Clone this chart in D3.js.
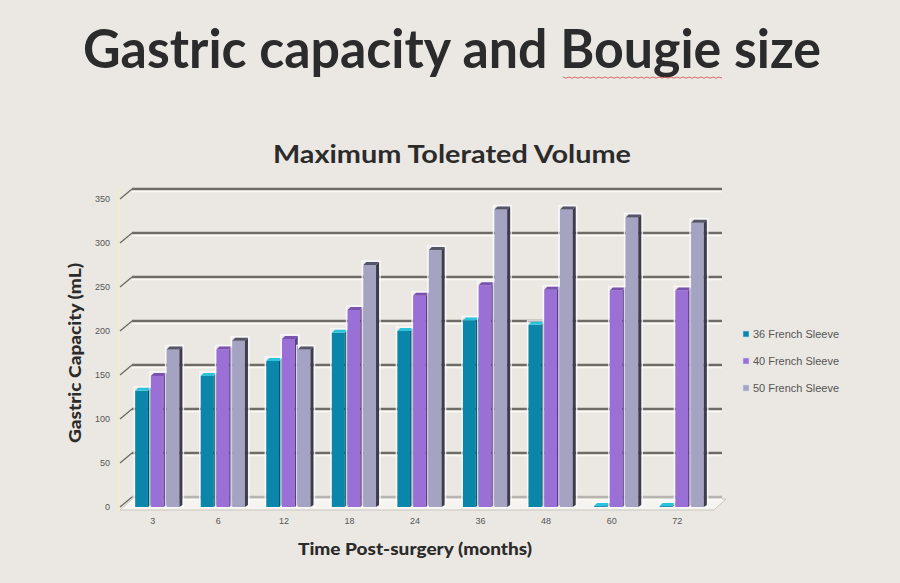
<!DOCTYPE html>
<html>
<head>
<meta charset="utf-8">
<script src="https://cdn.jsdelivr.net/npm/d3@7"></script>
<style>
  html, body { margin: 0; padding: 0; background: #ebe8e3; }
  svg { display: block; }
</style>
</head>
<body>
<svg id="chart" width="900" height="583"></svg>
<script>
// data
const months = ["3", "6", "12", "18", "24", "36", "48", "60", "72"];
const seriesNames = ["36 French Sleeve", "40 French Sleeve", "50 French Sleeve"];
const s36 = [132, 149, 166, 198, 200, 212, 207, 1, 1];
const s40 = [149, 179, 191, 224, 240, 252, 247, 246, 246];
const s50 = [179, 189, 179, 275, 292, 338, 338, 329, 323];
const yTicks = [0, 50, 100, 150, 200, 250, 300, 350];

const colors = ["#0a86ab", "#9a6fd6", "#a4a4c2"];
const sideColors = ["#05536b", "#5a3f86", "#3c3c4a"];
const topColors = ["#2bc2dc", "#7a52b0", "#55556a"];

const svg = d3.select("#chart");
const plotLeft = 120, plotRight = 710, plotBottom = 507, plotTop = 199;
const depthX = 12, depthY = -10;   // 3D offset of the back wall
const titleFont = "Lato, 'Open Sans', 'DejaVu Sans', sans-serif";

const x = d3.scaleBand().domain(months).range([plotLeft, plotRight])
    .paddingInner(0.28).paddingOuter(0.14);
const y = d3.scaleLinear().domain([0, 350]).range([plotBottom, plotTop]);
const xs = d3.scaleBand().domain(d3.range(3)).range([0, x.bandwidth()]);

// titles
svg.append("text")
    .attr("x", 452).attr("y", 68)
    .attr("text-anchor", "middle")
    .attr("textLength", 738).attr("lengthAdjust", "spacingAndGlyphs")
    .style("font-family", titleFont)
    .style("font-weight", "bold").style("font-size", "54px")
    .style("fill", "#2b2b2b")
    .text("Gastric capacity and Bougie size");

// wavy spell-check underline under "Bougie"
svg.append("path")
    .attr("d", d3.range(0, 160, 3).map((d, i) => (i ? "L" : "M") + (563 + d) + "," + (77 + (i % 2 ? 1.2 : 0))).join(""))
    .attr("fill", "none").attr("stroke", "#d04a4a").attr("stroke-width", 0.8);

svg.append("text")
    .attr("x", 452).attr("y", 163)
    .attr("text-anchor", "middle")
    .attr("textLength", 358).attr("lengthAdjust", "spacingAndGlyphs")
    .style("font-family", titleFont)
    .style("font-weight", "bold").style("font-size", "24px")
    .style("fill", "#2b2b2b")
    .text("Maximum Tolerated Volume");

// left wall edge
svg.append("line")
    .attr("x1", plotLeft - 1).attr("x2", plotLeft - 1)
    .attr("y1", y(350) - 12).attr("y2", plotBottom + 4)
    .attr("stroke", "#f2eec2").attr("stroke-width", 1.5);

// floor
svg.append("polygon")
    .attr("points", [[plotLeft, plotBottom + 3], [plotRight + 4, plotBottom + 3], [plotRight + 4 + depthX, plotBottom + depthY + 2], [plotLeft + depthX, plotBottom + depthY + 2]].join(" "))
    .attr("fill", "#f6f4f0").attr("stroke", "#c9c6c0").attr("stroke-width", 1);

// gridlines on the back wall with slanted ticks
const grid = svg.append("g");
yTicks.forEach(v => {
    const yy = y(v);
    grid.append("line")
        .attr("x1", plotLeft + depthX).attr("x2", 722)
        .attr("y1", yy + depthY).attr("y2", yy + depthY)
        .attr("stroke", v === 0 ? "#b8b5b0" : "#6f6b66").attr("stroke-width", 2.5);
    grid.append("line")
        .attr("x1", plotLeft + depthX).attr("x2", 722)
        .attr("y1", yy + depthY + 2.5).attr("y2", yy + depthY + 2.5)
        .attr("stroke", "#fbfaf7").attr("stroke-width", 1.5);
    grid.append("line")
        .attr("x1", plotLeft).attr("x2", plotLeft + depthX)
        .attr("y1", yy).attr("y2", yy + depthY)
        .attr("stroke", "#6a6661").attr("stroke-width", 1.2);
    grid.append("text")
        .attr("x", 110).attr("y", yy + 3)
        .attr("text-anchor", "end")
        .style("font-family", "'Liberation Sans', Arial, sans-serif")
        .style("font-size", "9px").style("fill", "#555")
        .text(v);
});

// bars
const series = [s36, s40, s50];
const bars = svg.append("g");
months.forEach((m, i) => {
    series.forEach((s, k) => {
        const bx = x(m) + 6 + xs(k);
        const bw = xs.bandwidth() - 3;
        const yt = y(s[i]);
        const g = bars.append("g");
        // glow
        g.append("rect")
            .attr("x", bx - 1).attr("y", yt - 4)
            .attr("width", bw + 5).attr("height", plotBottom - yt + 4)
            .attr("fill", "none").attr("stroke", "#fbfaff").attr("stroke-width", 1.5).attr("opacity", 0.8);
        g.append("rect")
            .attr("x", bx).attr("y", yt)
            .attr("width", bw).attr("height", plotBottom - yt)
            .attr("fill", colors[k]);
        g.append("polygon")
            .attr("points", [[bx + bw, yt], [bx + bw + 3, yt - 3], [bx + bw + 3, plotBottom - 2], [bx + bw, plotBottom]].join(" "))
            .attr("fill", sideColors[k]);
        g.append("polygon")
            .attr("points", [[bx, yt], [bx + bw, yt], [bx + bw + 3, yt - 3], [bx + 3, yt - 3]].join(" "))
            .attr("fill", topColors[k]);
    });
});

// x labels
svg.append("g").selectAll("text")
    .data(months).join("text")
    .attr("x", d => x(d) + x.bandwidth() / 2)
    .attr("y", 524)
    .attr("text-anchor", "middle")
    .style("font-family", "'Liberation Sans', Arial, sans-serif")
    .style("font-size", "9px").style("fill", "#555")
    .text(d => d);

// axis titles
svg.append("text")
    .attr("x", 415).attr("y", 555)
    .attr("text-anchor", "middle")
    .attr("textLength", 234).attr("lengthAdjust", "spacingAndGlyphs")
    .style("font-family", titleFont)
    .style("font-weight", "900").style("font-size", "16px")
    .style("fill", "#2b2b2b")
    .text("Time Post-surgery (months)");

svg.append("text")
    .attr("transform", "translate(81,353) rotate(-90)")
    .attr("text-anchor", "middle")
    .attr("textLength", 180).attr("lengthAdjust", "spacingAndGlyphs")
    .style("font-family", titleFont)
    .style("font-weight", "900").style("font-size", "16px")
    .style("fill", "#2b2b2b")
    .text("Gastric Capacity (mL)");

// legend
const legend = svg.append("g").attr("transform", "translate(743,334)");
seriesNames.forEach((name, k) => {
    const row = legend.append("g").attr("transform", `translate(0,${k * 27})`);
    row.append("rect")
        .attr("x", 0).attr("y", -3).attr("width", 6).attr("height", 6)
        .attr("fill", colors[k]).attr("stroke", "#c8d8f0").attr("stroke-width", 0.6);
    row.append("text")
        .attr("x", 10).attr("y", 3.5)
        .attr("textLength", 86).attr("lengthAdjust", "spacingAndGlyphs")
        .style("font-family", "'Liberation Sans', Arial, sans-serif")
        .style("font-size", "10px").style("fill", "#555")
        .text(name);
});
</script>
</body>
</html>
